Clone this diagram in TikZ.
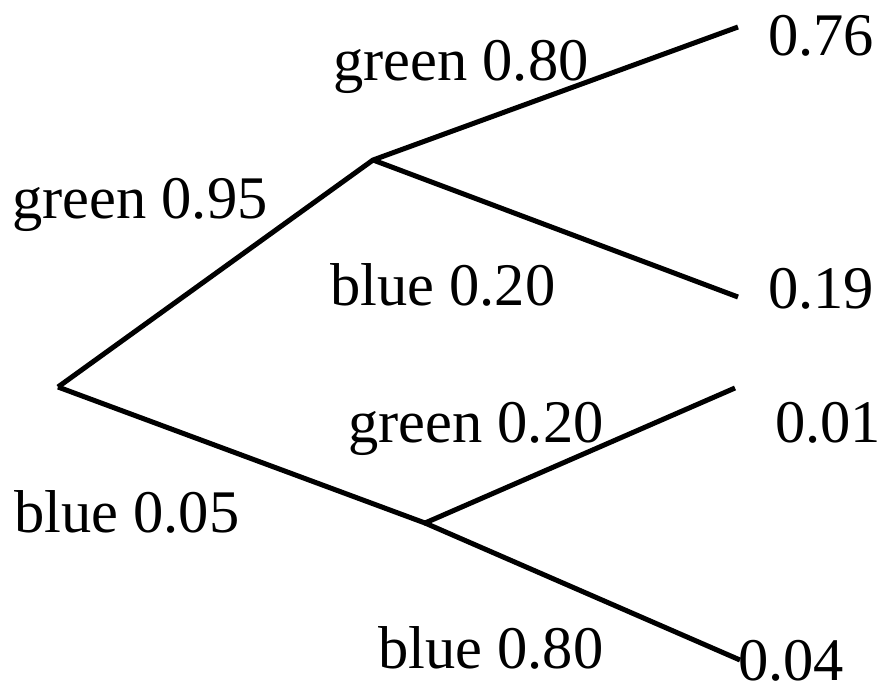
\documentclass[tikz,border=0pt]{standalone}
\usepackage{fontspec}
\setmainfont{Liberation Serif}
\begin{document}
\begin{tikzpicture}[x=1pt,y=-1pt,
  lbl/.style={anchor=base west,inner sep=0pt,font=\fontsize{60.5}{66}\selectfont},
  branch/.style={line width=5pt,line join=miter}]
\useasboundingbox (0,0) rectangle (881,694);
\coordinate (r) at (58,387);
\coordinate (u) at (373,160);
\coordinate (d) at (425,523);
\coordinate (uu) at (738,27);
\coordinate (ud) at (738,297);
\coordinate (du) at (735,388);
\coordinate (dd) at (740,660);
\draw[branch] (r) -- (u) -- (uu);
\draw[branch] (u) -- (ud);
\draw[branch] (r) -- (d) -- (du);
\draw[branch] (d) -- (dd);
\node[lbl] (t1) at (768,55) {0.76};
\node[lbl] (t2) at (768,308) {0.19};
\node[lbl] (t3) at (775,442) {0.01};
\node[lbl] (t4) at (738,680) {0.04};
\node[lbl] (l1) at (333,80) {green 0.80};
\node[lbl] (l2) at (12,218) {green 0.95};
\node[lbl] (l3) at (330,305) {blue 0.20};
\node[lbl] (l4) at (348,442) {green 0.20};
\node[lbl] (l5) at (14,532) {blue 0.05};
\node[lbl] (l6) at (378,668) {blue 0.80};
\end{tikzpicture}
\end{document}
